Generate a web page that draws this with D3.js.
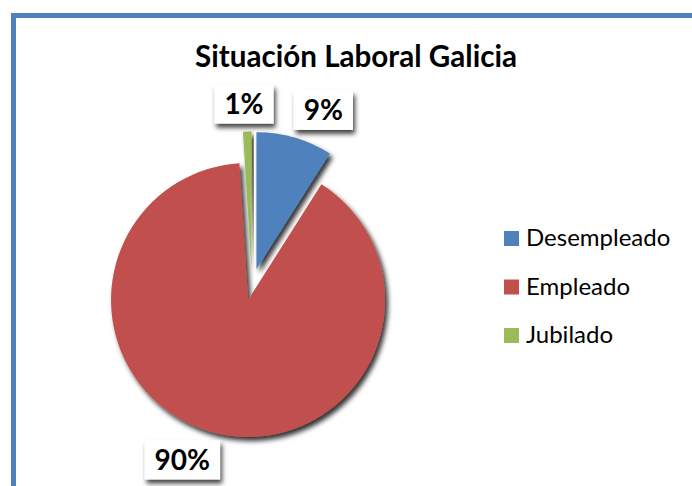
<!DOCTYPE html>
<html>
<head>
<meta charset="utf-8">
<script src="https://cdn.jsdelivr.net/npm/d3@7"></script>
<style>
  body { margin: 0; background: #fff; }
  svg { display: block; }
</style>
</head>
<body>
<script>
// data
var categories = ["Desempleado", "Empleado", "Jubilado"];
var values = [9, 90, 1];
var pctLabels = ["9%", "90%", "1%"];
var colors = ["#4F81BD", "#C0504D", "#9BBB59"];
var title = "Situación Laboral Galicia";

var width = 692, height = 486;

var svg = d3.select("body").append("svg")
    .attr("width", width)
    .attr("height", height);

var defs = svg.append("defs");
defs.append("filter").attr("id", "shadow")
    .attr("x", "-20%").attr("y", "-20%").attr("width", "140%").attr("height", "140%")
  .append("feDropShadow")
    .attr("dx", 3).attr("dy", 4)
    .attr("stdDeviation", 2.6)
    .attr("flood-color", "#000")
    .attr("flood-opacity", 0.8);
defs.append("filter").attr("id", "boxshadow")
    .attr("x", "-30%").attr("y", "-30%").attr("width", "160%").attr("height", "170%")
  .append("feDropShadow")
    .attr("dx", 2).attr("dy", 4)
    .attr("stdDeviation", 2.5)
    .attr("flood-color", "#000")
    .attr("flood-opacity", 0.75);

// chart area frame (runs off the right and bottom)
svg.append("rect")
    .attr("x", 13.5).attr("y", 15.5)
    .attr("width", 720).attr("height", 520)
    .attr("fill", "#fff")
    .attr("stroke", "#4F81BD")
    .attr("stroke-width", 5);

// title, sized to the width it has in the picture
var titleText = svg.append("text")
    .attr("x", 356).attr("y", 67)
    .attr("text-anchor", "middle")
    .style("font-family", "Lato, 'Open Sans', sans-serif")
    .style("font-weight", "bold")
    .style("font-size", "28px")
    .attr("fill", "#000")
    .text(title);
var tw = titleText.node().getComputedTextLength();
titleText.style("font-size", (28 * 322 / tw) + "px");

// pie
var cx = 252, cy = 284.5, radius = 137, explode = 16;

var pie = d3.pie().sort(null).value(function(d){ return d; });
var arcs = pie(values);
var arc = d3.arc().innerRadius(0).outerRadius(radius);

function dir(d){
  var a = (d.startAngle + d.endAngle) / 2;
  return [Math.sin(a), -Math.cos(a)];
}

var slices = svg.append("g")
    .attr("transform", "translate(" + cx + "," + cy + ")");

slices.selectAll("path")
    .data(arcs)
    .enter().append("path")
    .attr("d", arc)
    .attr("fill", function(d, i){ return colors[i]; })
    .attr("filter", "url(#shadow)")
    .attr("transform", function(d){
      var v = dir(d);
      return "translate(" + (v[0] * explode) + "," + (v[1] * explode) + ")";
    });

// data labels in white boxes, outside end
var labels = svg.append("g")
    .attr("transform", "translate(" + cx + "," + cy + ")");

arcs.forEach(function(d, i){
  var v = dir(d);
  var g = labels.append("g");
  var rect = g.append("rect").attr("fill", "#fff").attr("filter", "url(#boxshadow)");
  var t = g.append("text")
      .attr("text-anchor", "middle")
      .style("font-family", "Lato, 'Open Sans', sans-serif")
      .style("font-weight", "bold")
      .style("font-size", "28px")
      .attr("fill", "#000")
      .text(pctLabels[i]);
  var w = t.node().getComputedTextLength() + 20, h = 39;
  var px = v[0] * (explode + radius + 8), py = v[1] * (explode + radius + 8);
  var kx = Math.max(-1, Math.min(1, v[0] * 3));
  var ky = Math.max(-1, Math.min(1, v[1] * 3));
  var bx = px + kx * w / 2 + (kx > 0 ? 2 : -2) * Math.abs(kx);
  var by = py + ky * h / 2;
  rect.attr("x", bx - w / 2).attr("y", by - h / 2)
      .attr("width", w).attr("height", h);
  t.attr("x", bx).attr("y", by + 10);
});

// legend
var legend = svg.append("g")
    .attr("transform", "translate(504,231)");

var items = legend.selectAll("g")
    .data(categories)
    .enter().append("g")
    .attr("transform", function(d, i){ return "translate(0," + (i * 48.5) + ")"; });

items.append("rect")
    .attr("width", 15).attr("height", 15)
    .attr("fill", function(d, i){ return colors[i]; });

var legText = items.append("text")
    .attr("x", 22).attr("y", 15)
    .style("font-family", "Lato, 'Open Sans', sans-serif")
    .style("font-size", "21px")
    .attr("fill", "#000")
    .text(function(d){ return d; });
// scale legend text so the first entry spans the same width as in the picture
var lw = legText.node().getComputedTextLength();
legText.style("font-size", Math.min(24, 21 * 147 / lw) + "px");
</script>
</body>
</html>
